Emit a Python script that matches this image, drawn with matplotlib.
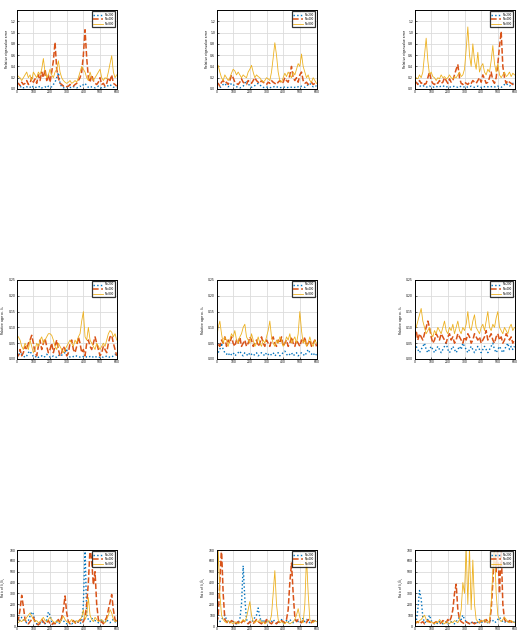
import matplotlib
matplotlib.use('Agg')
import matplotlib.pyplot as plt

# iteration index shared by every panel
steps = list(range(0, 601, 10))

labels = ['N=200', 'N=400', 'N=800']
ylabels = ['Relative eigenvalue error',
           r'Relative approx. $\lambda_t$',
           r'Ratio of $\lambda_t/\hat{\lambda}_t$']
ylims = [1.4, 0.25, 700]
yticks = [[0, 0.2, 0.4, 0.6, 0.8, 1, 1.2],
          [0, 0.05, 0.1, 0.15, 0.2, 0.25],
          [0, 100, 200, 300, 400, 500, 600, 700]]

# row 1
p11_blue = [0.05,0.04,0.03,0.05,0.02,0.03,0.04,0.02,0.03,0.06,0.03,0.02,0.04,0.03,0.05,0.02,0.03,0.04,0.02,0.05,0.03,0.04,0.08,0.12,0.2,0.29,0.1,0.04,0.02,0.03,0.04,0.02,0.03,0.02,0.04,0.03,0.02,0.03,0.05,0.04,0.08,0.1,0.06,0.03,0.02,0.04,0.03,0.02,0.03,0.05,0.03,0.02,0.04,0.03,0.05,0.06,0.08,0.05,0.03,0.04,0.03]
p11_orange = [0.08,0.1,0.06,0.12,0.08,0.1,0.15,0.08,0.1,0.2,0.12,0.18,0.1,0.25,0.15,0.3,0.2,0.35,0.15,0.25,0.12,0.3,0.5,0.83,0.35,0.2,0.1,0.08,0.05,0.06,0.04,0.05,0.08,0.06,0.05,0.08,0.1,0.15,0.2,0.3,0.6,1.05,0.55,0.2,0.12,0.25,0.15,0.1,0.08,0.12,0.2,0.08,0.1,0.05,0.1,0.2,0.15,0.25,0.1,0.08,0.05]
p11_yellow = [0.27,0.22,0.2,0.15,0.2,0.25,0.3,0.2,0.25,0.15,0.3,0.25,0.2,0.3,0.25,0.35,0.54,0.3,0.2,0.25,0.35,0.25,0.2,0.3,0.35,0.5,0.3,0.2,0.15,0.12,0.1,0.12,0.15,0.1,0.12,0.15,0.12,0.2,0.3,0.4,0.35,0.3,0.2,0.15,0.3,0.2,0.15,0.2,0.25,0.3,0.35,0.2,0.15,0.2,0.18,0.3,0.45,0.59,0.3,0.2,0.25]

p12_blue = [0.02,0.03,0.02,0.05,0.08,0.1,0.06,0.04,0.06,0.1,0.08,0.05,0.04,0.03,0.02,0.03,0.05,0.1,0.15,0.1,0.05,0.03,0.04,0.06,0.08,0.1,0.08,0.04,0.03,0.02,0.03,0.04,0.03,0.02,0.03,0.05,0.04,0.03,0.02,0.03,0.04,0.03,0.02,0.03,0.04,0.03,0.02,0.03,0.02,0.04,0.03,0.05,0.04,0.03,0.05,0.08,0.1,0.06,0.04,0.06,0.05]
p12_orange = [0.08,0.1,0.05,0.12,0.15,0.1,0.12,0.08,0.15,0.25,0.2,0.12,0.1,0.08,0.12,0.18,0.12,0.1,0.08,0.15,0.12,0.1,0.15,0.2,0.15,0.12,0.1,0.15,0.12,0.1,0.08,0.12,0.1,0.15,0.12,0.1,0.08,0.12,0.15,0.1,0.12,0.2,0.15,0.12,0.25,0.4,0.2,0.15,0.2,0.12,0.25,0.3,0.15,0.1,0.12,0.08,0.1,0.12,0.08,0.1,0.12]
p12_yellow = [0.35,0.42,0.3,0.2,0.15,0.25,0.2,0.15,0.2,0.28,0.35,0.32,0.25,0.3,0.25,0.2,0.25,0.22,0.2,0.3,0.35,0.42,0.3,0.2,0.25,0.22,0.2,0.15,0.12,0.15,0.2,0.18,0.15,0.3,0.55,0.82,0.6,0.3,0.15,0.12,0.2,0.28,0.22,0.3,0.25,0.2,0.3,0.25,0.35,0.45,0.4,0.62,0.4,0.3,0.2,0.25,0.15,0.12,0.2,0.15,0.1]

p13_blue = [0.05,0.08,0.1,0.06,0.04,0.05,0.06,0.04,0.03,0.05,0.04,0.03,0.04,0.05,0.03,0.04,0.05,0.06,0.04,0.03,0.05,0.04,0.03,0.04,0.05,0.04,0.03,0.05,0.04,0.03,0.04,0.05,0.03,0.04,0.05,0.04,0.03,0.04,0.05,0.04,0.03,0.05,0.04,0.05,0.04,0.03,0.04,0.05,0.04,0.03,0.05,0.04,0.03,0.05,0.08,0.1,0.07,0.05,0.08,0.1,0.09]
p13_orange = [0.1,0.12,0.08,0.15,0.1,0.12,0.08,0.1,0.2,0.3,0.15,0.1,0.08,0.12,0.1,0.15,0.1,0.12,0.2,0.15,0.1,0.18,0.12,0.15,0.25,0.35,0.43,0.2,0.1,0.08,0.12,0.1,0.08,0.12,0.1,0.15,0.12,0.1,0.15,0.2,0.12,0.25,0.18,0.1,0.12,0.2,0.3,0.15,0.1,0.2,0.45,0.75,1.02,0.4,0.2,0.1,0.15,0.12,0.1,0.08,0.1]
p13_yellow = [0.15,0.2,0.18,0.25,0.2,0.3,0.6,0.9,0.5,0.25,0.3,0.22,0.2,0.15,0.2,0.18,0.25,0.2,0.22,0.18,0.2,0.25,0.2,0.18,0.22,0.2,0.25,0.3,0.22,0.25,0.35,0.7,1.1,0.6,0.4,0.8,0.5,0.35,0.65,0.3,0.4,0.45,0.3,0.25,0.35,0.3,0.5,0.77,0.45,0.3,0.45,0.25,0.2,0.25,0.3,0.22,0.25,0.3,0.22,0.28,0.25]

# row 2
p21_blue = [0.005,0.01,0.02,0.015,0.01,0.005,0.01,0.02,0.025,0.015,0.008,0.005,0.01,0.005,0.008,0.01,0.005,0.008,0.015,0.01,0.006,0.005,0.01,0.008,0.005,0.01,0.015,0.012,0.018,0.02,0.028,0.012,0.006,0.005,0.008,0.006,0.01,0.008,0.006,0.005,0.008,0.01,0.006,0.005,0.008,0.01,0.005,0.008,0.006,0.004,0.006,0.008,0.005,0.006,0.01,0.008,0.005,0.006,0.01,0.015,0.01]
p21_orange = [0.02,0.01,0.03,0.01,0.02,0.04,0.03,0.05,0.06,0.075,0.05,0.02,0.01,0.04,0.06,0.03,0.05,0.065,0.04,0.02,0.03,0.05,0.02,0.04,0.06,0.03,0.01,0.02,0.04,0.03,0.01,0.02,0.05,0.06,0.03,0.02,0.04,0.07,0.05,0.02,0.03,0.01,0.05,0.06,0.04,0.03,0.05,0.07,0.05,0.03,0.01,0.02,0.04,0.03,0.02,0.05,0.07,0.075,0.05,0.03,0.01]
p21_yellow = [0.075,0.07,0.06,0.04,0.03,0.05,0.04,0.03,0.06,0.04,0.02,0.03,0.05,0.04,0.06,0.07,0.05,0.06,0.07,0.08,0.08,0.075,0.06,0.04,0.03,0.05,0.04,0.03,0.02,0.03,0.04,0.05,0.06,0.05,0.04,0.06,0.05,0.07,0.08,0.12,0.15,0.07,0.06,0.1,0.06,0.05,0.04,0.03,0.05,0.04,0.03,0.04,0.05,0.04,0.06,0.08,0.09,0.085,0.07,0.08,0.06]

p22_blue = [0.01,0.02,0.03,0.05,0.03,0.02,0.015,0.02,0.01,0.015,0.02,0.01,0.015,0.02,0.025,0.015,0.01,0.02,0.015,0.01,0.02,0.015,0.01,0.015,0.02,0.01,0.015,0.02,0.015,0.01,0.02,0.015,0.01,0.015,0.02,0.01,0.015,0.02,0.01,0.015,0.02,0.025,0.015,0.01,0.015,0.02,0.01,0.015,0.02,0.01,0.015,0.02,0.015,0.01,0.02,0.03,0.02,0.015,0.02,0.01,0.015]
p22_orange = [0.03,0.05,0.04,0.06,0.05,0.07,0.04,0.06,0.05,0.07,0.05,0.04,0.06,0.05,0.07,0.04,0.05,0.06,0.04,0.05,0.07,0.06,0.04,0.05,0.06,0.04,0.05,0.07,0.05,0.04,0.06,0.05,0.04,0.06,0.07,0.05,0.04,0.06,0.05,0.07,0.04,0.05,0.06,0.04,0.05,0.07,0.05,0.04,0.06,0.05,0.04,0.06,0.05,0.07,0.04,0.05,0.06,0.04,0.05,0.06,0.04]
p22_yellow = [0.06,0.1,0.12,0.08,0.05,0.07,0.06,0.04,0.06,0.08,0.07,0.09,0.06,0.05,0.07,0.08,0.1,0.11,0.07,0.06,0.05,0.08,0.06,0.04,0.05,0.07,0.05,0.04,0.06,0.05,0.07,0.09,0.12,0.07,0.05,0.04,0.06,0.05,0.07,0.06,0.04,0.05,0.07,0.06,0.08,0.05,0.06,0.07,0.05,0.08,0.15,0.09,0.05,0.06,0.04,0.05,0.07,0.05,0.04,0.06,0.05]

p23_blue = [0.03,0.04,0.03,0.02,0.03,0.04,0.05,0.03,0.02,0.03,0.04,0.03,0.02,0.03,0.04,0.03,0.02,0.03,0.04,0.05,0.03,0.02,0.03,0.04,0.03,0.02,0.03,0.04,0.03,0.05,0.04,0.03,0.02,0.03,0.04,0.03,0.02,0.03,0.04,0.03,0.02,0.03,0.04,0.03,0.02,0.03,0.04,0.05,0.03,0.02,0.03,0.04,0.03,0.02,0.03,0.04,0.05,0.03,0.04,0.03,0.04]
p23_orange = [0.07,0.09,0.06,0.08,0.07,0.06,0.08,0.1,0.12,0.1,0.07,0.05,0.06,0.08,0.07,0.06,0.08,0.07,0.06,0.05,0.07,0.08,0.06,0.07,0.05,0.06,0.08,0.07,0.06,0.05,0.07,0.06,0.08,0.07,0.05,0.06,0.08,0.07,0.06,0.07,0.05,0.06,0.07,0.09,0.06,0.07,0.08,0.06,0.05,0.07,0.08,0.06,0.07,0.05,0.06,0.08,0.07,0.06,0.07,0.05,0.06]
p23_yellow = [0.09,0.1,0.12,0.14,0.16,0.12,0.1,0.08,0.09,0.1,0.08,0.07,0.09,0.08,0.1,0.09,0.08,0.1,0.12,0.09,0.08,0.1,0.09,0.11,0.08,0.1,0.12,0.09,0.08,0.1,0.09,0.11,0.15,0.1,0.09,0.12,0.14,0.1,0.09,0.08,0.1,0.11,0.09,0.12,0.15,0.1,0.09,0.11,0.1,0.13,0.15,0.1,0.09,0.08,0.1,0.09,0.08,0.1,0.11,0.09,0.1]

# row 3
p31_blue = [60,70,50,80,60,40,30,50,90,130,110,40,20,30,20,40,30,20,60,130,100,40,20,30,40,20,30,60,50,30,20,40,30,20,30,40,50,30,20,40,200,720,100,60,40,70,60,50,40,30,40,60,40,30,60,40,30,50,60,40,30]
p31_orange = [40,60,150,283,180,60,30,20,40,60,80,40,20,10,30,60,40,20,30,50,20,10,30,20,40,60,30,80,150,277,120,40,20,30,50,30,20,40,60,30,40,80,200,400,720,600,380,500,200,60,30,40,20,50,80,150,220,290,150,60,40]
p31_yellow = [40,30,50,40,60,50,80,100,120,90,60,40,50,30,40,60,80,50,40,60,80,60,40,30,50,40,30,60,90,60,40,30,40,60,40,30,50,40,60,80,150,60,100,262,100,60,40,80,60,40,50,60,40,30,60,100,150,120,60,40,50]

p32_blue = [20,30,40,60,80,100,60,40,30,50,40,30,20,30,60,200,555,250,60,40,30,40,50,80,100,166,80,40,60,30,40,50,30,40,60,40,30,20,40,60,30,40,50,30,60,40,30,50,60,40,30,50,70,40,60,50,30,40,60,50,40]
p32_orange = [30,80,400,720,300,60,40,20,30,50,40,20,30,40,20,30,50,40,30,20,40,30,20,40,60,40,30,20,40,30,60,40,30,20,40,30,20,40,30,50,40,30,60,150,400,580,300,80,40,60,40,30,50,40,30,60,40,30,50,40,30]
p32_yellow = [20,720,300,100,60,40,30,50,40,30,20,40,30,20,30,40,60,40,80,150,225,100,40,30,50,40,60,30,40,20,30,50,40,100,300,510,200,60,30,40,30,20,40,30,20,30,40,60,100,160,80,40,30,200,640,300,60,40,30,50,40]

p33_blue = [30,40,150,327,250,80,30,40,60,100,50,30,20,30,20,40,30,20,30,40,20,30,40,30,20,40,60,80,60,100,60,40,30,20,30,40,30,20,40,60,40,30,50,40,30,40,60,50,30,40,60,80,60,40,30,50,40,30,40,30,40]
p33_orange = [20,30,40,20,30,40,20,30,50,40,30,20,30,40,30,20,30,50,40,30,60,40,80,150,300,385,150,60,40,30,20,40,30,20,40,30,20,30,40,30,50,40,30,60,40,30,150,400,720,500,720,300,720,200,60,40,30,50,40,30,40]
p33_yellow = [20,40,30,50,60,80,100,60,40,30,40,30,20,40,30,60,40,30,20,40,30,20,40,30,50,40,30,60,150,400,300,720,200,720,150,607,200,60,40,30,50,40,60,40,30,50,200,500,720,300,100,60,40,60,80,60,40,30,50,40,30]

panels = [[(p11_blue, p11_orange, p11_yellow), (p12_blue, p12_orange, p12_yellow), (p13_blue, p13_orange, p13_yellow)],
          [(p21_blue, p21_orange, p21_yellow), (p22_blue, p22_orange, p22_yellow), (p23_blue, p23_orange, p23_yellow)],
          [(p31_blue, p31_orange, p31_yellow), (p32_blue, p32_orange, p32_yellow), (p33_blue, p33_orange, p33_yellow)]]

colors = ['#0072BD', '#D95319', '#EDB120']
styles = [':', '--', '-']
widths = [1.0, 1.1, 0.6]

fig = plt.figure(figsize=(5.17, 6.34), dpi=100)
W, H = 517, 634
lefts = [16.7, 216.5, 414.5]
tops = [10, 280, 550]
heights = [79, 79, 76]
aw = 100

for r in range(3):
    ah = heights[r]
    for c in range(3):
        ax = fig.add_axes([lefts[c] / W, (H - tops[r] - ah) / H, aw / W, ah / H])
        for s in range(3):
            ax.plot(steps, panels[r][c][s], color=colors[s], linestyle=styles[s],
                    linewidth=widths[s], label=labels[s])
        ax.set_xlim(0, 600)
        ax.set_ylim(0, ylims[r])
        ax.set_xticks(range(0, 601, 100))
        ax.set_yticks(yticks[r])
        ax.grid(True, color='#dcdcdc', linewidth=0.6)
        ax.set_axisbelow(True)
        ax.tick_params(direction='in', length=1.5, width=0.4, labelsize=2.2, pad=1)
        for sp in ax.spines.values():
            sp.set_linewidth(0.7)
        ax.set_ylabel(ylabels[r], fontsize=2.2, labelpad=1.0)
        leg = ax.legend(loc='upper right', fontsize=2.0, frameon=True, fancybox=False,
                        handlelength=3.5, borderpad=0.4, labelspacing=0.3)
        leg.get_frame().set_edgecolor('black')
        leg.get_frame().set_linewidth(0.9)

plt.savefig('out.png', dpi=100)
